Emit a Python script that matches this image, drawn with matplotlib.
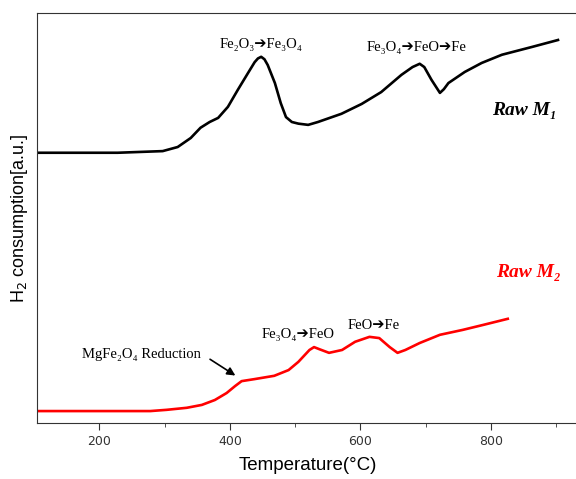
import matplotlib
matplotlib.use("Agg")
import matplotlib.pyplot as plt
from matplotlib.ticker import MultipleLocator

# Raw M1 (black) TPR profile
temp_m1 = [105, 228, 297, 320, 340, 355, 369, 382, 397, 412, 428, 438, 443, 448, 453, 458, 469, 478,
           486, 495, 505, 520, 535, 571, 602, 632, 663, 680, 691, 698, 709, 722, 728, 735, 760, 786, 817, 863, 903]
h2_m1 = [65.9, 65.9, 66.3, 67.3, 69.5, 72.0, 73.4, 74.4, 77.1, 81.2, 85.4, 88.0, 88.9, 89.3, 88.7, 87.3, 82.9, 78.0,
         74.6, 73.4, 73.0, 72.7, 73.4, 75.4, 77.8, 80.7, 84.9, 86.8, 87.6, 86.8, 83.7, 80.5, 81.4, 82.9, 85.6, 87.8, 89.8, 91.7, 93.4]

# Raw M2 (red) TPR profile
temp_m2 = [105, 278, 303, 334, 357, 377, 395, 408, 418, 438, 468, 490, 505, 522, 529, 537,
           552, 572, 592, 614, 629, 645, 657, 669, 691, 722, 757, 788, 826]
h2_m2 = [2.9, 2.9, 3.2, 3.7, 4.4, 5.6, 7.3, 9.0, 10.2, 10.7, 11.5, 12.9, 14.9, 17.8, 18.5, 18.0,
         17.1, 17.8, 19.8, 21.0, 20.7, 18.5, 17.1, 17.8, 19.5, 21.5, 22.7, 23.9, 25.4]

serif = ['Liberation Serif', 'DejaVu Sans']

fig = plt.figure(figsize=(5.76, 4.79), dpi=100)
ax = fig.add_axes([0.065, 0.117, 0.94, 0.856])

ax.plot(temp_m1, h2_m1, color='black', lw=1.9, solid_joinstyle='round')
ax.plot(temp_m2, h2_m2, color='red', lw=1.9, solid_joinstyle='round')

ax.set_xlim(105, 935)
ax.set_ylim(0, 100)
ax.xaxis.set_major_locator(MultipleLocator(200))
ax.xaxis.set_minor_locator(MultipleLocator(100))
ax.set_yticks([])
ax.spines['right'].set_visible(False)
for s in ['left', 'bottom', 'top']:
    ax.spines[s].set_color('#333333')
ax.tick_params(axis='x', which='major', length=5, direction='out', labelsize=9, colors='#333333')
ax.tick_params(axis='x', which='minor', length=3, direction='out', colors='#333333')

ax.set_xlabel('Temperature(\u00b0C)', fontsize=13.5, family='Liberation Sans', labelpad=7)
ax.set_ylabel('H$_2$ consumption[a.u.]', fontsize=13, family='Liberation Sans', labelpad=5)

ax.text(448, 92.4, 'Fe\u2082O\u2083\u2794Fe\u2083O\u2084', ha='center', va='center', fontsize=10.5, family=serif)
ax.text(686, 91.5, 'Fe\u2083O\u2084\u2794FeO\u2794Fe', ha='center', va='center', fontsize=10.5, family=serif)
ax.text(851, 76.3, 'Raw M\u2081', ha='center', va='center', fontsize=14, family=serif,
        fontweight='bold', fontstyle='italic', color='black')
ax.text(858, 36.6, 'Raw M\u2082', ha='center', va='center', fontsize=14, family=serif,
        fontweight='bold', fontstyle='italic', color='red')
ax.text(505, 21.5, 'Fe\u2083O\u2084\u2794FeO', ha='center', va='center', fontsize=10.5, family=serif)
ax.text(620, 23.7, 'FeO\u2794Fe', ha='center', va='center', fontsize=10.5, family=serif)
ax.text(264, 16.8, 'MgFe\u2082O\u2084 Reduction', ha='center', va='center', fontsize=10.5, family=serif)
ax.annotate('', xy=(412, 11.2), xytext=(366, 15.9),
            arrowprops=dict(arrowstyle='-|>', color='black', lw=1.2, mutation_scale=12))

fig.savefig('out.png', dpi=100)
